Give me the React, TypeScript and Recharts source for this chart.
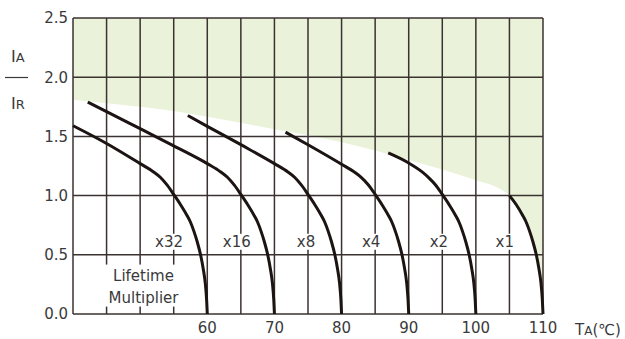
import {
  ComposedChart,
  Line,
  Area,
  XAxis,
  YAxis,
  ReferenceLine,
  ReferenceDot,
} from "recharts";

// temperature axis (°C) and ratio axis
const xTicks = [40, 45, 50, 55, 60, 65, 70, 75, 80, 85, 90, 95, 100, 105, 110];
const xTickLabels = [60, 70, 80, 90, 100, 110];
const yTicks = [0, 0.5, 1.0, 1.5, 2.0, 2.5];

// shaded (not allowed) zone, lower edge
const zoneT = [40, 45, 50, 55, 60, 65, 70, 75, 80, 85, 90, 95, 100, 103.5, 105, 106, 107, 107.5, 108, 108.5, 109, 109.4, 109.7, 109.9, 110];
const zoneR = [1.81, 1.78, 1.75, 1.715, 1.665, 1.615, 1.56, 1.51, 1.45, 1.38, 1.3, 1.22, 1.13, 1.06, 1.0, 0.925, 0.83, 0.775, 0.7, 0.61, 0.5, 0.38, 0.26, 0.12, 0];

// curves per lifetime multiplier
const x32T = [40, 45, 50, 52, 53, 54, 55, 56, 57, 57.5, 58, 58.5, 59, 59.4, 59.7, 59.9, 60];
const x32R = [1.59, 1.44, 1.27, 1.2, 1.155, 1.09, 1.01, 0.925, 0.83, 0.775, 0.7, 0.61, 0.5, 0.38, 0.26, 0.12, 0];

const x16T = [42.2, 45, 50, 55, 60, 62, 63, 64, 65, 66, 67, 67.5, 68, 68.5, 69, 69.4, 69.7, 69.9, 70];
const x16R = [1.79, 1.71, 1.565, 1.42, 1.27, 1.2, 1.155, 1.09, 1.01, 0.925, 0.83, 0.775, 0.7, 0.61, 0.5, 0.38, 0.26, 0.12, 0];

const x8T = [57.1, 60, 65, 70, 72, 73, 74, 75, 76, 77, 77.5, 78, 78.5, 79, 79.4, 79.7, 79.9, 80];
const x8R = [1.676, 1.585, 1.43, 1.27, 1.2, 1.155, 1.09, 1.01, 0.925, 0.83, 0.775, 0.7, 0.61, 0.5, 0.38, 0.26, 0.12, 0];

const x4T = [71.65, 75, 80, 82, 83, 84, 85, 86, 87, 87.5, 88, 88.5, 89, 89.4, 89.7, 89.9, 90];
const x4R = [1.536, 1.43, 1.265, 1.195, 1.15, 1.09, 1.01, 0.925, 0.83, 0.775, 0.7, 0.61, 0.5, 0.38, 0.26, 0.12, 0];

const x2T = [86.95, 90, 92, 93, 94, 95, 96, 97, 97.5, 98, 98.5, 99, 99.4, 99.7, 99.9, 100];
const x2R = [1.36, 1.275, 1.2, 1.15, 1.09, 1.01, 0.925, 0.83, 0.775, 0.7, 0.61, 0.5, 0.38, 0.26, 0.12, 0];

const x1T = [105, 106, 107, 107.5, 108, 108.5, 109, 109.4, 109.7, 109.9, 110];
const x1R = [1.0, 0.925, 0.83, 0.775, 0.7, 0.61, 0.5, 0.38, 0.26, 0.12, 0];

const multLabels = ["x32", "x16", "x8", "x4", "x2", "x1"];
const multLabelT = [54.3, 64.4, 74.7, 84.4, 94.5, 104.3];
const multLabelR = 0.61;

const toPoints = (t: number[], r: number[]) => t.map((v, i) => ({ t: v, r: r[i] }));

const zoneData = zoneT.map((v, i) => ({ t: v, band: [zoneR[i], 2.5] }));
const curves = [
  toPoints(x32T, x32R),
  toPoints(x16T, x16R),
  toPoints(x8T, x8R),
  toPoints(x4T, x4R),
  toPoints(x2T, x2R),
  toPoints(x1T, x1R),
];

const FONT = "'DejaVu Sans', sans-serif";
const TEXT = "#3a3a3a";
const GRID = "#3a3230";
const CURVE = "#1c1412";

const boxLabel = (text: string, w: number) => (props: any) => (
  <g>
    <rect x={props.cx - w / 2} y={props.cy - 8} width={w} height={16} fill="#fff" />
    <text
      x={props.cx}
      y={props.cy}
      dy="0.36em"
      textAnchor="middle"
      fontFamily={FONT}
      fontSize={15}
      fill={TEXT}
    >
      {text}
    </text>
  </g>
);

const lifetimeLabel = (props: any) => (
  <g>
    <rect x={props.cx - 41} y={props.cy - 21} width={82} height={42} fill="#fff" />
    <text x={props.cx} y={props.cy - 5} textAnchor="middle" fontFamily={FONT} fontSize={15} fill={TEXT}>
      Lifetime
    </text>
    <text x={props.cx} y={props.cy + 17} textAnchor="middle" fontFamily={FONT} fontSize={15} fill={TEXT}>
      Multiplier
    </text>
  </g>
);

const YLabel = () => (
  <g fontFamily={FONT} fill={TEXT}>
    <text x={11} y={62}>
      <tspan fontSize={16}>I</tspan>
      <tspan fontSize={13}>A</tspan>
    </text>
    <line x1={5} x2={28} y1={77.5} y2={77.5} stroke={TEXT} strokeWidth={1.2} />
    <text x={11} y={109}>
      <tspan fontSize={16}>I</tspan>
      <tspan fontSize={13}>R</tspan>
    </text>
  </g>
);

const XLabel = () => (
  <text x={575} y={335} fontFamily={FONT} fill={TEXT}>
    <tspan fontSize={15}>T</tspan>
    <tspan fontSize={12}>A</tspan>
    <tspan fontSize={15}>(℃)</tspan>
  </text>
);

export default function App() {
  return (
    <div style={{ position: "absolute", left: 0, top: 0, background: "#fff" }}>
      <ComposedChart
        width={625}
        height={339}
        margin={{ top: 18, right: 82, bottom: 0, left: 0 }}
      >
        <XAxis
          dataKey="t"
          type="number"
          domain={[40, 110]}
          ticks={xTicks}
          allowDuplicatedCategory={false}
          tickFormatter={(v: number) => (xTickLabels.includes(v) ? String(v) : "")}
          axisLine={false}
          tickLine={false}
          height={25}
          tickSize={3}
          tickMargin={5}
          interval={0}
          tick={{ fontFamily: FONT, fontSize: 15, fill: TEXT }}
          label={{ content: () => <XLabel /> }}
        />
        <YAxis
          type="number"
          domain={[0, 2.5]}
          ticks={yTicks}
          tickFormatter={(v: number) => v.toFixed(1)}
          axisLine={false}
          tickLine={false}
          width={73}
          tickSize={3}
          tickMargin={2}
          interval={0}
          tick={{ fontFamily: FONT, fontSize: 15, fill: TEXT }}
          label={{ content: () => <YLabel /> }}
        />
        <Area
          data={zoneData}
          dataKey="band"
          type="monotone"
          fill="#eaf3d9"
          fillOpacity={1}
          stroke="none"
          isAnimationActive={false}
        />
        {xTicks.map((t) => (
          <ReferenceLine key={"v" + t} x={t} stroke={GRID} strokeWidth={1.5} zIndex={150} />
        ))}
        {yTicks.map((r) => (
          <ReferenceLine key={"h" + r} y={r} stroke={GRID} strokeWidth={1.5} zIndex={150} />
        ))}
        {multLabels.map((m, i) => (
          <ReferenceDot
            key={m}
            x={multLabelT[i]}
            y={multLabelR}
            zIndex={250}
            shape={boxLabel(m, m.length > 2 ? 32 : 24)}
          />
        ))}
        <ReferenceDot x={50.5} y={0.24} zIndex={250} shape={lifetimeLabel} />
        {curves.map((c, i) => (
          <Line
            key={multLabels[i]}
            data={c}
            dataKey="r"
            type="monotone"
            stroke={CURVE}
            strokeWidth={3}
            dot={false}
            activeDot={false}
            isAnimationActive={false}
          />
        ))}
      </ComposedChart>
    </div>
  );
}
